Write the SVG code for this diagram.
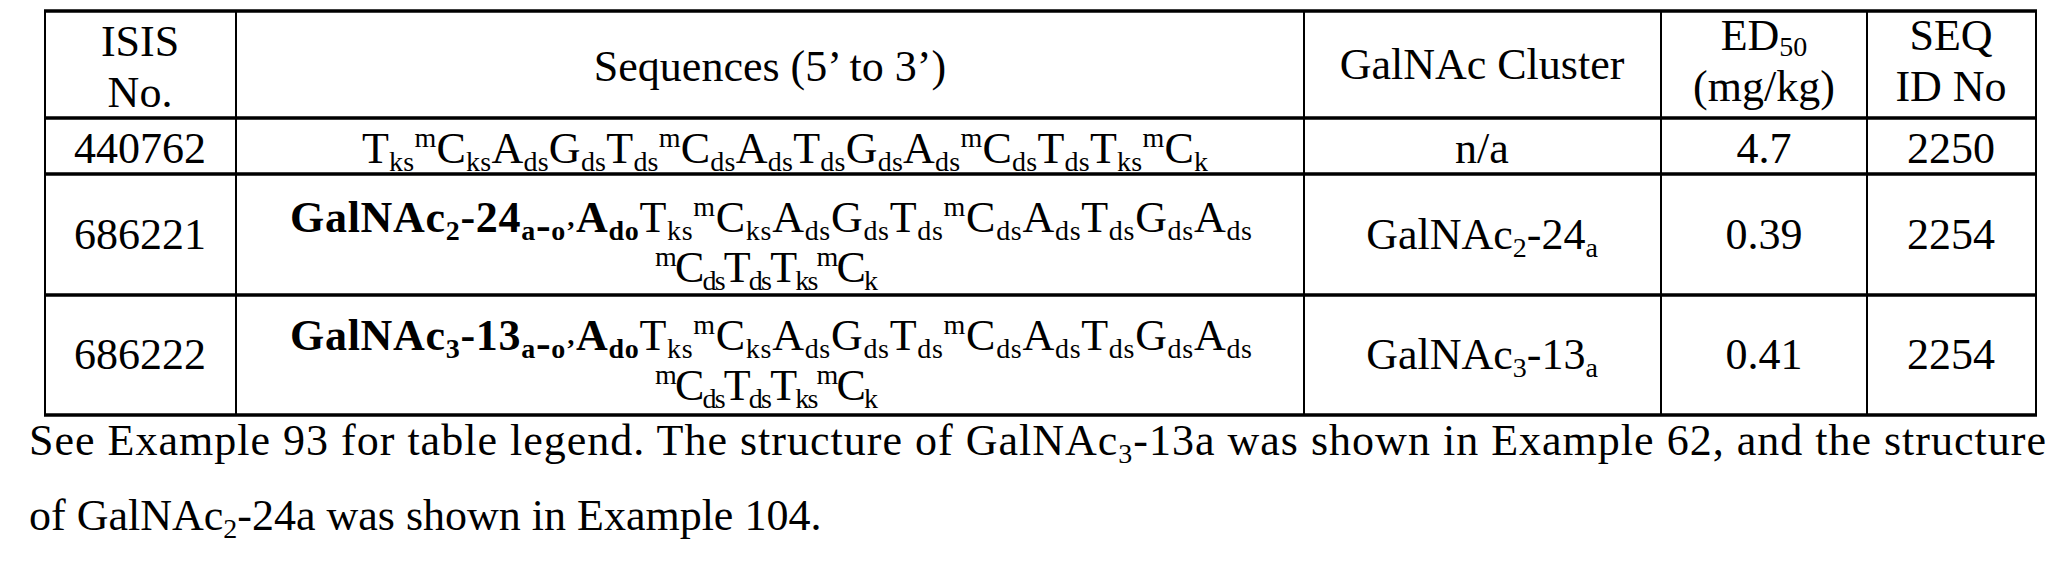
<svg xmlns="http://www.w3.org/2000/svg" width="2064" height="574" viewBox="0 0 2064 574">
<style>
text{font-family:"Liberation Serif","Times New Roman",serif;font-size:44px;fill:#000}
.s{font-size:28px}
.b{font-weight:bold}
.m{text-anchor:middle}
line{stroke:#000}
.h{stroke-width:3.5}
.v{stroke-width:2}
</style>
<rect width="2064" height="574" fill="#fff"/>
<g id="grid">
<line class="h" x1="44" y1="11" x2="2037" y2="11"/>
<line class="h" x1="44" y1="118" x2="2037" y2="118"/>
<line class="h" x1="44" y1="174" x2="2037" y2="174"/>
<line class="h" x1="44" y1="295" x2="2037" y2="295"/>
<line class="h" x1="44" y1="415" x2="2037" y2="415"/>
<line class="v" x1="45" y1="11" x2="45" y2="415"/>
<line class="v" x1="236" y1="11" x2="236" y2="415"/>
<line class="v" x1="1304" y1="11" x2="1304" y2="415"/>
<line class="v" x1="1661" y1="11" x2="1661" y2="415"/>
<line class="v" x1="1867" y1="11" x2="1867" y2="415"/>
<line class="v" x1="2036" y1="11" x2="2036" y2="415"/>
</g>
<g id="header">
<text class="m" x="140" y="56">ISIS</text>
<text class="m" x="140" y="107">No.</text>
<text class="m" x="770" y="81">Sequences (5’ to 3’)</text>
<text class="m" x="1482" y="79">GalNAc Cluster</text>
<text class="m" x="1764" y="50">ED<tspan class="s" dy="6">50</tspan></text>
<text class="m" x="1764" y="101">(mg/kg)</text>
<text class="m" x="1951" y="50">SEQ</text>
<text class="m" x="1951" y="101">ID No</text>
</g>
<g id="row1">
<text class="m" x="140" y="163">440762</text>
<text x="362" y="163" textLength="846" lengthAdjust="spacing">T<tspan class="s" dy="8">ks</tspan><tspan class="s" dy="-24">m</tspan><tspan dy="16">C</tspan><tspan class="s" dy="8">ks</tspan><tspan dy="-8">A</tspan><tspan class="s" dy="8">ds</tspan><tspan dy="-8">G</tspan><tspan class="s" dy="8">ds</tspan><tspan dy="-8">T</tspan><tspan class="s" dy="8">ds</tspan><tspan class="s" dy="-24">m</tspan><tspan dy="16">C</tspan><tspan class="s" dy="8">ds</tspan><tspan dy="-8">A</tspan><tspan class="s" dy="8">ds</tspan><tspan dy="-8">T</tspan><tspan class="s" dy="8">ds</tspan><tspan dy="-8">G</tspan><tspan class="s" dy="8">ds</tspan><tspan dy="-8">A</tspan><tspan class="s" dy="8">ds</tspan><tspan class="s" dy="-24">m</tspan><tspan dy="16">C</tspan><tspan class="s" dy="8">ds</tspan><tspan dy="-8">T</tspan><tspan class="s" dy="8">ds</tspan><tspan dy="-8">T</tspan><tspan class="s" dy="8">ks</tspan><tspan class="s" dy="-24">m</tspan><tspan dy="16">C</tspan><tspan class="s" dy="8">k</tspan></text>
<text class="m" x="1482" y="163">n/a</text>
<text class="m" x="1764" y="163">4.7</text>
<text class="m" x="1951" y="163">2250</text>
</g>
<g id="row2">
<text class="m" x="140" y="249">686221</text>
<text x="290" y="232" textLength="962" lengthAdjust="spacing"><tspan class="b">GalNAc</tspan><tspan class="s b" dy="8">2</tspan><tspan class="b" dy="-8">-24</tspan><tspan class="s b" dy="8">a</tspan><tspan class="b">-</tspan><tspan class="s b">o’</tspan><tspan class="b" dy="-8">A</tspan><tspan class="s b" dy="8">do</tspan><tspan dy="-8">T</tspan><tspan class="s" dy="8">ks</tspan><tspan class="s" dy="-24">m</tspan><tspan dy="16">C</tspan><tspan class="s" dy="8">ks</tspan><tspan dy="-8">A</tspan><tspan class="s" dy="8">ds</tspan><tspan dy="-8">G</tspan><tspan class="s" dy="8">ds</tspan><tspan dy="-8">T</tspan><tspan class="s" dy="8">ds</tspan><tspan class="s" dy="-24">m</tspan><tspan dy="16">C</tspan><tspan class="s" dy="8">ds</tspan><tspan dy="-8">A</tspan><tspan class="s" dy="8">ds</tspan><tspan dy="-8">T</tspan><tspan class="s" dy="8">ds</tspan><tspan dy="-8">G</tspan><tspan class="s" dy="8">ds</tspan><tspan dy="-8">A</tspan><tspan class="s" dy="8">ds</tspan></text>
<text x="655" y="282" textLength="223" lengthAdjust="spacing"><tspan class="s" dy="-16">m</tspan><tspan dy="16">C</tspan><tspan class="s" dy="8">ds</tspan><tspan dy="-8">T</tspan><tspan class="s" dy="8">ds</tspan><tspan dy="-8">T</tspan><tspan class="s" dy="8">ks</tspan><tspan class="s" dy="-24">m</tspan><tspan dy="16">C</tspan><tspan class="s" dy="8">k</tspan></text>
<text class="m" x="1482" y="249">GalNAc<tspan class="s" dy="8">2</tspan><tspan dy="-8">-24</tspan><tspan class="s" dy="8">a</tspan></text>
<text class="m" x="1764" y="249">0.39</text>
<text class="m" x="1951" y="249">2254</text>
</g>
<g id="row3">
<text class="m" x="140" y="369">686222</text>
<text x="290" y="350" textLength="962" lengthAdjust="spacing"><tspan class="b">GalNAc</tspan><tspan class="s b" dy="8">3</tspan><tspan class="b" dy="-8">-13</tspan><tspan class="s b" dy="8">a</tspan><tspan class="b">-</tspan><tspan class="s b">o’</tspan><tspan class="b" dy="-8">A</tspan><tspan class="s b" dy="8">do</tspan><tspan dy="-8">T</tspan><tspan class="s" dy="8">ks</tspan><tspan class="s" dy="-24">m</tspan><tspan dy="16">C</tspan><tspan class="s" dy="8">ks</tspan><tspan dy="-8">A</tspan><tspan class="s" dy="8">ds</tspan><tspan dy="-8">G</tspan><tspan class="s" dy="8">ds</tspan><tspan dy="-8">T</tspan><tspan class="s" dy="8">ds</tspan><tspan class="s" dy="-24">m</tspan><tspan dy="16">C</tspan><tspan class="s" dy="8">ds</tspan><tspan dy="-8">A</tspan><tspan class="s" dy="8">ds</tspan><tspan dy="-8">T</tspan><tspan class="s" dy="8">ds</tspan><tspan dy="-8">G</tspan><tspan class="s" dy="8">ds</tspan><tspan dy="-8">A</tspan><tspan class="s" dy="8">ds</tspan></text>
<text x="655" y="400" textLength="223" lengthAdjust="spacing"><tspan class="s" dy="-16">m</tspan><tspan dy="16">C</tspan><tspan class="s" dy="8">ds</tspan><tspan dy="-8">T</tspan><tspan class="s" dy="8">ds</tspan><tspan dy="-8">T</tspan><tspan class="s" dy="8">ks</tspan><tspan class="s" dy="-24">m</tspan><tspan dy="16">C</tspan><tspan class="s" dy="8">k</tspan></text>
<text class="m" x="1482" y="369">GalNAc<tspan class="s" dy="8">3</tspan><tspan dy="-8">-13</tspan><tspan class="s" dy="8">a</tspan></text>
<text class="m" x="1764" y="369">0.41</text>
<text class="m" x="1951" y="369">2254</text>
</g>
<g id="caption">
<text x="29" y="455" textLength="2017" lengthAdjust="spacing">See Example 93 for table legend. The structure of GalNAc<tspan class="s" dy="8">3</tspan><tspan dy="-8">-13a was shown in Example 62, and the structure</tspan></text>
<text x="29" y="530">of GalNAc<tspan class="s" dy="8">2</tspan><tspan dy="-8">-24a was shown in Example 104.</tspan></text>
</g>
</svg>
